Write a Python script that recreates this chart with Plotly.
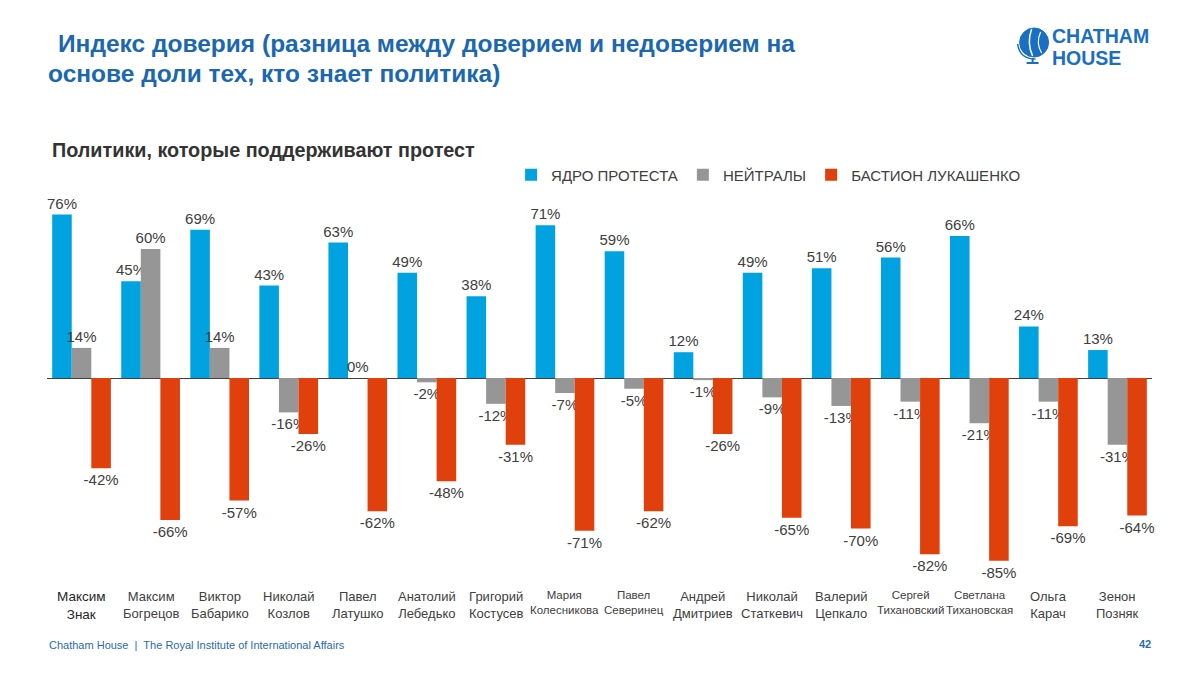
import plotly.graph_objects as go

names = ["Максим<br>Знак", "Максим<br>Богрецов", "Виктор<br>Бабарико", "Николай<br>Козлов",
         "Павел<br>Латушко", "Анатолий<br>Лебедько", "Григорий<br>Костусев", "Мария<br>Колесникова",
         "Павел<br>Северинец", "Андрей<br>Дмитриев", "Николай<br>Статкевич", "Валерий<br>Цепкало",
         "Сергей<br>Тихановский", "Светлана<br>Тихановская", "Ольга<br>Карач", "Зенон<br>Позняк"]
label_sizes = [13.5, 13, 13, 13, 13, 13, 13, 11.5, 11.5, 13, 13, 13, 11.5, 11.5, 13, 13]

core = [76, 45, 69, 43, 63, 49, 38, 71, 59, 12, 49, 51, 56, 66, 24, 13]
neutral = [14, 60, 14, -16, 0, -2, -12, -7, -5, -1, -9, -13, -11, -21, -11, -31]
bastion = [-42, -66, -57, -26, -62, -48, -31, -71, -62, -26, -65, -70, -82, -85, -69, -64]

series = [("ЯДРО ПРОТЕСТА", core, "#00A3E0"),
          ("НЕЙТРАЛЫ", neutral, "#969696"),
          ("БАСТИОН ЛУКАШЕНКО", bastion, "#E0400C")]

cats = list(range(len(names)))
FONT = "Liberation Sans, Arial, sans-serif"

fig = go.Figure()
for nm, vals, col in series:
    fig.add_trace(go.Bar(
        x=cats, y=vals, name=nm, marker_color=col, marker_line_width=0,
        text=[f"{v}%" for v in vals], textposition="outside",
        constraintext="none", cliponaxis=False,
        textfont=dict(family=FONT, size=15, color="#404040"),
    ))

W, H = 1200, 675
L, R, T, B = 46.5, 47.5, 190, 100
ph = H - T - B
pw = W - L - R
ZERO_Y = 378
SCALE = 2.15

annotations = []
for c, nm, sz in zip(cats, names, label_sizes):
    annotations.append(dict(x=c, xref="x", y=-12 / ph, yref="paper", yanchor="top",
                            text=nm, showarrow=False,
                            font=dict(family=FONT, size=sz, color="#262626" if sz > 13 else "#404040")))

def px_x(x):
    return (x - L) / pw

def px_y(y):
    return (H - B - y) / ph

def txt(x, y, text, size, color, xanchor="left", bold=False):
    return dict(x=px_x(x), y=px_y(y), xref="paper", yref="paper", xanchor=xanchor, yanchor="middle",
                showarrow=False, text=f"<b>{text}</b>" if bold else text, borderpad=0,
                font=dict(family=FONT, size=size, color=color))

# titles
annotations.append(txt(57, 43, "Индекс доверия (разница между доверием и недоверием на", 24.5, "#1B67B0", bold=True))
annotations.append(txt(47, 73, "основе доли тех, кто знает политика)", 24.5, "#1B67B0", bold=True))
annotations.append(txt(51, 150, "Политики, которые поддерживают протест", 19.8, "#333333", bold=True))
# logo text
annotations.append(txt(1051, 35.5, "CHATHAM", 19.5, "#1A6FC2", bold=True))
annotations.append(txt(1051, 58, "HOUSE", 19.5, "#1A6FC2", bold=True))
# footer
annotations.append(txt(48, 645, "Chatham House  |  The Royal Institute of International Affairs", 11, "#2A6AB0"))
annotations.append(txt(1152, 644, "42", 11, "#2A6AB0", xanchor="right", bold=True))

shapes = [
    # globe logo
    dict(type="circle", xref="paper", yref="paper",
         x0=px_x(1020), x1=px_x(1049), y0=px_y(57), y1=px_y(28),
         fillcolor="#1A6FC2", line=dict(color="#1A6FC2", width=1)),
    dict(type="path", xref="paper", yref="paper",
         path=f"M {px_x(1032)},{px_y(29)} Q {px_x(1027)},{px_y(43)} {px_x(1033)},{px_y(56)}",
         line=dict(color="white", width=1.5)),
    dict(type="path", xref="paper", yref="paper",
         path=f"M {px_x(1041)},{px_y(32)} Q {px_x(1036)},{px_y(43)} {px_x(1042)},{px_y(53)}",
         line=dict(color="white", width=1.2)),
    dict(type="path", xref="paper", yref="paper",
         path=f"M {px_x(1018)},{px_y(44)} Q {px_x(1020)},{px_y(59)} {px_x(1036)},{px_y(59)}",
         line=dict(color="#1A6FC2", width=1.5)),
    dict(type="line", xref="paper", yref="paper",
         x0=px_x(1033), x1=px_x(1033), y0=px_y(58), y1=px_y(63),
         line=dict(color="#1A6FC2", width=2)),
    dict(type="line", xref="paper", yref="paper",
         x0=px_x(1027), x1=px_x(1039), y0=px_y(63), y1=px_y(63),
         line=dict(color="#1A6FC2", width=2)),
]

fig.update_layout(
    width=W, height=H, autosize=False,
    margin=dict(l=L, r=R, t=T, b=B, pad=0),
    paper_bgcolor="white", plot_bgcolor="white",
    barmode="group", bargap=0.15, bargroupgap=0,
    font=dict(family=FONT, size=14, color="#404040"),
    xaxis=dict(range=[-0.5, len(names) - 0.5], showticklabels=False, showgrid=False,
               zeroline=False, showline=False, ticks=""),
    yaxis=dict(range=[-(H - B - ZERO_Y) / SCALE, (ZERO_Y - T) / SCALE], showticklabels=False,
               showgrid=False, zeroline=True, zerolinecolor="#404040", zerolinewidth=1,
               showline=False, ticks=""),
    legend=dict(orientation="h", x=px_x(511), y=px_y(175), xanchor="left", yanchor="middle",
                font=dict(family=FONT, size=15, color="#404040"), itemwidth=30,
                traceorder="normal", bgcolor="rgba(0,0,0,0)"),
    annotations=annotations,
    shapes=shapes,
)

fig.write_html("out.html", config={"displayModeBar": False},
               post_script="document.body.style.margin='0px';")
